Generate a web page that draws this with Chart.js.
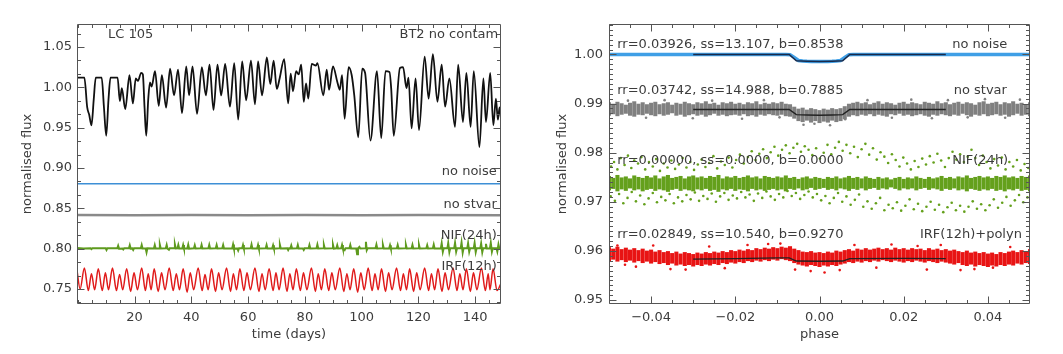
<!DOCTYPE html>
<html><head><meta charset="utf-8">
<script src="https://cdn.jsdelivr.net/npm/chart.js@4.4.0/dist/chart.umd.min.js"></script>
<style>
html,body{margin:0;padding:0;background:#fff;}
#wrap{position:relative;width:1063px;height:354px;overflow:hidden;background:#fff;}
#c1{position:absolute;left:0;top:0;}
#c2{position:absolute;left:531px;top:0;}
</style></head><body>
<div id="wrap"><canvas id="c1" width="531" height="354"></canvas><canvas id="c2" width="532" height="354"></canvas></div>
<script>
// ---------- tick labels ----------
const LEFT_X_TICKS = [20, 40, 60, 80, 100, 120, 140];
const LEFT_Y_TICKS = [0.75, 0.80, 0.85, 0.90, 0.95, 1.00, 1.05];
const RIGHT_X_TICKS = [-0.04, -0.02, 0, 0.02, 0.04];
const RIGHT_Y_TICKS = [0.95, 0.96, 0.97, 0.98, 0.99, 1.00];

// ---------- left panel: light curves (time [d], normalised flux) ----------
const LC_BT2 = [[0,1.012],[2.3,1.012],[3.3,0.975],[4.0,0.966],[4.8,0.953],[5.6,0.985],[6.3,1.012],[8.4,1.012],[9.2,0.975],[10.0,0.940],[10.8,0.985],[11.5,1.012],[14.0,1.012],[14.8,0.983],[15.5,0.999],[16.7,0.973],[18.2,1.015],[19.4,0.980],[20.4,1.011],[21.2,1.008],[22.3,1.018],[22.9,1.016],[23.5,0.975],[24.1,0.940],[24.8,0.985],[25.4,1.006],[26.0,1.001],[27.2,1.020],[28.5,0.977],[29.6,1.015],[31.1,0.975],[32.5,1.023],[33.9,0.990],[35.3,1.022],[36.7,0.968],[38.2,1.026],[39.2,0.990],[40.4,1.026],[42.0,0.967],[43.7,1.025],[45.1,0.990],[46.4,1.028],[47.8,0.972],[49.2,1.028],[50.5,0.990],[51.9,1.029],[53.6,0.976],[55.1,1.030],[56.5,0.960],[57.9,1.032],[59.3,0.984],[61.0,1.033],[62.4,0.979],[63.5,1.032],[64.9,0.990],[66.6,1.037],[67.8,1.004],[69.0,1.033],[70.1,0.998],[71.1,1.011],[72.7,1.035],[74.1,0.980],[75.0,1.017],[75.8,0.995],[76.9,1.020],[77.8,1.016],[78.7,1.028],[79.6,0.982],[80.4,1.005],[81.2,0.986],[82.4,1.029],[83.9,1.027],[84.4,1.030],[86.5,0.990],[87.7,1.022],[88.5,0.997],[89.9,1.026],[91.4,1.007],[92.3,0.997],[93.1,1.015],[94.0,0.961],[95.4,1.025],[96.5,1.015],[97.4,0.990],[98.8,0.938],[100.2,1.023],[101.2,1.018],[103.1,0.934],[105.4,1.020],[106.9,0.937],[108.4,1.020],[109.8,1.019],[110.4,0.999],[111.3,0.940],[113.5,1.024],[114.6,1.025],[115.8,0.999],[116.5,1.012],[117.6,0.949],[119.0,1.011],[120.2,0.947],[122.2,1.038],[123.6,0.986],[125.1,1.041],[126.7,0.982],[128.2,1.028],[129.4,0.976],[130.9,1.011],[132.9,0.951],[134.0,1.028],[135.7,0.957],[136.9,1.018],[138.4,0.951],[139.5,1.020],[141.5,0.926],[142.9,1.011],[143.8,0.957],[145.3,1.018],[146.4,0.953],[147.3,0.986],[148.0,0.960],[148.6,0.975],[149.1,0.962]];
const LC_NONOISE = [[-0.3,0.8805],[149.1,0.8805]];
const LC_NOSTVAR = [[-0.3,0.8416],[20,0.8414],[40,0.8417],[60,0.8414],[80,0.8416],[100,0.8413],[120,0.8416],[149.1,0.8414]];
const LC_NIF = [[-0.3,0.8008],[2.0,0.8003],[4.5,0.8005],[4.8,0.7994],[5.1,0.8004],[9.8,0.8004],[10.1,0.7984],[10.4,0.8006],[13.9,0.8004],[14.2,0.8035],[14.5,0.8000],[15.7,0.8002],[16.0,0.7991],[16.3,0.8004],[18.0,0.8004],[18.3,0.8042],[18.6,0.8001],[19.2,0.8003],[19.5,0.7984],[19.8,0.8004],[22.2,0.8004],[22.5,0.8045],[22.8,0.8002],[23.9,0.8002],[24.2,0.7955],[24.5,0.8006],[26.8,0.8003],[27.1,0.8044],[27.4,0.8002],[28.6,0.8003],[28.9,0.8046],[29.2,0.8001],[31.0,0.8004],[31.3,0.8046],[31.6,0.8000],[32.1,0.7986],[32.4,0.8004],[33.9,0.8004],[34.2,0.8050],[34.5,0.8002],[35.1,0.8004],[35.4,0.8046],[35.7,0.8001],[36.8,0.8003],[37.1,0.8045],[37.4,0.8001],[38.6,0.8004],[38.9,0.8048],[39.2,0.8000],[40.9,0.8004],[41.2,0.8042],[41.5,0.8002],[43.3,0.8004],[43.6,0.8046],[43.9,0.8002],[46.0,0.8004],[46.3,0.8046],[46.6,0.8001],[48.6,0.8004],[48.9,0.8044],[49.2,0.8001],[50.9,0.8004],[51.2,0.8045],[51.5,0.8002],[54.4,0.8004],[54.7,0.8051],[55.0,0.8001],[56.2,0.8003],[56.5,0.7977],[56.8,0.8005],[57.9,0.8004],[58.2,0.8044],[58.5,0.8001],[60.9,0.8004],[61.2,0.8051],[61.5,0.8002],[63.2,0.8004],[63.5,0.8046],[63.8,0.8001],[66.2,0.8004],[66.5,0.8044],[66.8,0.8002],[68.5,0.8004],[68.8,0.8042],[69.1,0.8001],[70.9,0.8004],[71.2,0.8046],[71.5,0.8002],[73.8,0.8004],[74.1,0.7984],[74.4,0.8005],[74.9,0.8004],[75.2,0.8039],[75.5,0.8002],[77.2,0.8004],[77.5,0.8045],[77.8,0.8001],[79.3,0.8003],[79.6,0.7984],[79.9,0.8005],[81.3,0.8004],[81.6,0.8045],[81.9,0.8002],[84.1,0.8004],[84.4,0.8048],[84.7,0.8001],[86.4,0.8004],[86.7,0.8044],[87.0,0.8002],[89.6,0.8004],[89.9,0.8045],[90.2,0.8001],[91.1,0.8004],[91.4,0.8042],[91.7,0.8002],[92.8,0.8004],[93.1,0.8045],[93.4,0.8000],[94.0,0.7982],[94.3,0.8005],[95.7,0.8004],[96.0,0.8045],[96.3,0.8002],[98.1,0.8003],[98.4,0.7930],[98.7,0.8004],[99.2,0.8022],[99.5,0.8003],[101.2,0.8004],[101.5,0.8085],[101.8,0.7982],[102.1,0.8004],[104.9,0.8004],[105.2,0.8048],[105.5,0.8001],[107.2,0.8004],[107.5,0.8045],[107.8,0.8002],[109.7,0.8004],[110.0,0.8042],[110.3,0.8001],[112.4,0.8004],[112.7,0.8045],[113.0,0.8002],[115.3,0.8004],[115.6,0.8044],[115.9,0.8001],[117.6,0.8004],[117.9,0.8046],[118.2,0.8002],[119.9,0.8004],[120.2,0.8045],[120.5,0.8001],[122.8,0.8004],[123.1,0.8042],[123.4,0.8002],[125.1,0.8004],[125.4,0.8048],[125.7,0.8001],[127.9,0.8004],[128.2,0.8065],[128.6,0.7960],[128.9,0.8004],[130.2,0.8004],[130.5,0.8068],[130.9,0.7958],[131.2,0.8004],[132.6,0.8004],[132.9,0.8070],[133.3,0.7962],[133.6,0.8004],[134.9,0.8004],[135.2,0.8074],[135.6,0.7952],[135.9,0.8004],[137.2,0.8004],[137.5,0.8066],[137.9,0.7962],[138.2,0.8004],[139.5,0.8004],[139.8,0.8070],[140.2,0.7958],[140.5,0.8004],[141.8,0.8004],[142.1,0.8064],[142.5,0.7956],[142.8,0.8004],[143.5,0.8004],[143.8,0.8060],[144.1,0.8002],[145.2,0.8004],[145.5,0.8070],[145.9,0.7962],[146.2,0.8004],[147.5,0.8004],[147.8,0.7965],[148.2,0.8050],[148.5,0.8002],[149.1,0.8005]];
const LC_IRF = [[-0.3,0.773],[0.8,0.750],[2.3,0.776],[3.7,0.748],[4.8,0.769],[5.9,0.749],[7.2,0.775],[8.6,0.748],[9.7,0.770],[10.8,0.749],[12.2,0.776],[13.6,0.748],[14.7,0.768],[15.8,0.749],[17.2,0.775],[18.6,0.747],[19.8,0.770],[21.0,0.749],[22.5,0.776],[23.8,0.748],[24.8,0.769],[25.8,0.749],[26.9,0.775],[28.3,0.747],[29.5,0.770],[30.7,0.749],[32.2,0.776],[33.6,0.748],[34.7,0.769],[35.8,0.749],[37.1,0.775],[38.5,0.746],[39.6,0.770],[40.8,0.749],[42.4,0.776],[43.8,0.748],[44.8,0.768],[45.9,0.749],[47.1,0.775],[48.5,0.747],[49.6,0.770],[50.8,0.749],[52.4,0.776],[53.8,0.747],[54.8,0.769],[55.9,0.749],[57.1,0.775],[58.5,0.748],[59.6,0.770],[60.8,0.749],[62.4,0.776],[63.8,0.747],[64.9,0.769],[66.0,0.749],[67.4,0.775],[68.8,0.748],[69.8,0.770],[70.9,0.749],[72.3,0.776],[73.7,0.747],[74.7,0.769],[75.8,0.749],[77.0,0.775],[78.4,0.748],[79.5,0.770],[80.7,0.749],[82.3,0.776],[83.7,0.747],[84.7,0.769],[85.8,0.749],[87.0,0.775],[88.4,0.748],[89.5,0.770],[90.7,0.749],[92.3,0.776],[93.7,0.747],[94.8,0.769],[95.9,0.749],[97.2,0.775],[98.6,0.746],[99.7,0.770],[100.9,0.749],[102.3,0.776],[103.7,0.748],[104.7,0.769],[105.8,0.749],[107.0,0.775],[108.4,0.747],[109.5,0.770],[110.7,0.749],[112.3,0.776],[113.7,0.748],[114.7,0.769],[115.8,0.749],[116.9,0.775],[118.3,0.747],[119.4,0.770],[120.6,0.749],[122.2,0.776],[123.6,0.748],[124.6,0.769],[125.7,0.749],[126.9,0.775],[128.3,0.747],[129.4,0.770],[130.6,0.749],[132.2,0.776],[133.6,0.748],[134.6,0.769],[135.7,0.749],[136.9,0.775],[138.3,0.747],[139.4,0.770],[140.6,0.749],[142.2,0.776],[143.6,0.748],[144.6,0.769],[145.2,0.749],[146.3,0.775],[147.7,0.748],[149.1,0.757]];

// ---------- right panel: phase-folded data ----------
const PHASE = [-0.05,-0.049,-0.048,-0.047,-0.046,-0.045,-0.044,-0.043,-0.042,-0.041,-0.04,-0.039,-0.038,-0.037,-0.036,-0.035,-0.034,-0.033,-0.032,-0.031,-0.03,-0.029,-0.028,-0.027,-0.026,-0.025,-0.024,-0.023,-0.022,-0.021,-0.02,-0.019,-0.018,-0.017,-0.016,-0.015,-0.014,-0.013,-0.012,-0.011,-0.01,-0.009,-0.008,-0.007,-0.006,-0.005,-0.004,-0.003,-0.002,-0.001,0,0.001,0.002,0.003,0.004,0.005,0.006,0.007,0.008,0.009,0.01,0.011,0.012,0.013,0.014,0.015,0.016,0.017,0.018,0.019,0.02,0.021,0.022,0.023,0.024,0.025,0.026,0.027,0.028,0.029,0.03,0.031,0.032,0.033,0.034,0.035,0.036,0.037,0.038,0.039,0.04,0.041,0.042,0.043,0.044,0.045,0.046,0.047,0.048,0.049,0.05];
const NONOISE_FLUX = [1,1,1,1,1,1,1,1,1,1,1,1,1,1,1,1,1,1,1,1,1,1,1,1,1,1,1,1,1,1,1,1,1,1,1,1,1,1,1,1,1,1,1,0.99996,0.9994,0.99878,0.99868,0.99862,0.99858,0.99856,0.99855,0.99856,0.99858,0.99862,0.99868,0.99878,0.9994,0.99996,1,1,1,1,1,1,1,1,1,1,1,1,1,1,1,1,1,1,1,1,1,1,1,1,1,1,1,1,1,1,1,1,1,1,1,1,1,1,1,1,1,1,1];
const NOSTVAR_HI = [.9902,.9899,.9903,.9900,.9897,.9901,.9904,.9899,.9902,.9898,.9901,.9903,.9898,.9900,.9902,.9897,.9901,.9899,.9903,.9900,.9898,.9902,.9900,.9904,.9899,.9901,.9897,.9902,.9900,.9903,.9899,.9901,.9898,.9902,.9900,.9904,.9898,.9901,.9899,.9902,.9900,.9903,.9899,.9898,.9893,.9889,.9891,.9887,.9890,.9888,.9886,.9889,.9887,.9890,.9888,.9890,.9894,.9899,.9901,.9903,.9900,.9902,.9898,.9901,.9904,.9899,.9902,.9900,.9897,.9901,.9903,.9899,.9902,.9900,.9898,.9903,.9901,.9899,.9904,.9900,.9902,.9898,.9901,.9903,.9899,.9902,.9900,.9897,.9902,.9904,.9899,.9901,.9903,.9898,.9902,.9900,.9904,.9899,.9901,.9898,.9902];
const NOSTVAR_LO = [.9876,.9879,.9875,.9878,.9880,.9876,.9874,.9878,.9877,.9880,.9877,.9875,.9879,.9876,.9878,.9881,.9876,.9878,.9874,.9877,.9879,.9876,.9878,.9874,.9877,.9880,.9876,.9878,.9875,.9877,.9878,.9876,.9879,.9875,.9877,.9874,.9878,.9876,.9879,.9877,.9876,.9878,.9875,.9874,.9870,.9865,.9863,.9866,.9862,.9865,.9861,.9864,.9862,.9866,.9863,.9865,.9869,.9874,.9877,.9875,.9878,.9876,.9879,.9875,.9878,.9876,.9874,.9879,.9877,.9880,.9876,.9878,.9875,.9877,.9879,.9876,.9874,.9878,.9876,.9879,.9877,.9875,.9878,.9876,.9880,.9877,.9874,.9878,.9876,.9879,.9875,.9877,.9879,.9876,.9878,.9874,.9877,.9880,.9876,.9878,.9875];
const NOSTVAR_OUT = [[-0.0455,0.9906],[-0.0412,0.9871],[-0.0368,0.9907],[-0.0301,0.9870],[-0.0255,0.9906],[-0.0184,0.9869],[-0.0132,0.9907],[-0.0095,0.9872],[-0.0038,0.9857],[-0.0012,0.9859],[0.0025,0.9856],[0.0061,0.9868],[0.0114,0.9907],[0.0172,0.9871],[0.0218,0.9908],[0.0267,0.9870],[0.0305,0.9907],[0.0352,0.9872],[0.0393,0.9909],[0.0441,0.9871],[0.0476,0.9908]];
const NIF_HI = [.9752,.9748,.9754,.9749,.9751,.9747,.9753,.9750,.9748,.9752,.9749,.9753,.9747,.9751,.9754,.9748,.9750,.9752,.9747,.9751,.9753,.9749,.9751,.9748,.9752,.9750,.9754,.9747,.9751,.9749,.9752,.9748,.9750,.9753,.9749,.9751,.9747,.9752,.9750,.9748,.9751,.9749,.9753,.9748,.9750,.9746,.9749,.9751,.9747,.9750,.9748,.9746,.9750,.9748,.9751,.9747,.9749,.9752,.9748,.9750,.9747,.9751,.9748,.9746,.9750,.9747,.9749,.9745,.9748,.9750,.9746,.9749,.9747,.9751,.9748,.9746,.9750,.9747,.9749,.9752,.9748,.9750,.9747,.9751,.9749,.9753,.9748,.9750,.9752,.9749,.9751,.9748,.9752,.9750,.9753,.9749,.9751,.9748,.9752,.9750,.9753];
const NIF_LO = [.9724,.9727,.9722,.9726,.9723,.9728,.9724,.9726,.9722,.9725,.9727,.9723,.9726,.9724,.9721,.9725,.9727,.9723,.9726,.9724,.9722,.9726,.9724,.9727,.9723,.9725,.9721,.9726,.9724,.9727,.9723,.9726,.9725,.9722,.9727,.9724,.9726,.9723,.9725,.9727,.9724,.9726,.9722,.9727,.9725,.9728,.9724,.9726,.9729,.9725,.9727,.9729,.9725,.9727,.9724,.9728,.9726,.9723,.9727,.9725,.9728,.9724,.9727,.9729,.9725,.9728,.9726,.9730,.9727,.9724,.9728,.9726,.9728,.9724,.9727,.9729,.9725,.9728,.9726,.9723,.9727,.9725,.9728,.9724,.9726,.9722,.9727,.9725,.9723,.9726,.9724,.9727,.9723,.9725,.9722,.9726,.9724,.9727,.9723,.9725,.9722];
const NIF_SCATTER = [[-0.0495,0.9772],[-0.0488,0.9781],[-0.048,0.9766],[-0.0472,0.9789],[-0.0463,0.9775],[-0.0455,0.9794],[-0.0447,0.9769],[-0.044,0.9784],[-0.0431,0.9778],[-0.0423,0.9791],[-0.0414,0.9766],[-0.0405,0.9781],[-0.0396,0.9772],[-0.0388,0.9787],[-0.0379,0.9763],[-0.037,0.9778],[-0.0361,0.977],[-0.0352,0.9784],[-0.0343,0.9767],[-0.0334,0.9776],[-0.0325,0.9789],[-0.0316,0.977],[-0.0307,0.9781],[-0.0298,0.9765],[-0.0289,0.9776],[-0.028,0.9786],[-0.0271,0.9771],[-0.0262,0.9779],[-0.0252,0.9793],[-0.0243,0.9768],[-0.0234,0.9782],[-0.0225,0.9775],[-0.0216,0.979],[-0.0207,0.977],[-0.0198,0.9785],[-0.0189,0.9796],[-0.018,0.9778],[-0.017,0.9791],[-0.0161,0.9803],[-0.0152,0.9785],[-0.0143,0.9798],[-0.0134,0.9807],[-0.0125,0.9789],[-0.0116,0.9801],[-0.0107,0.9812],[-0.0098,0.9794],[-0.0089,0.9806],[-0.008,0.9815],[-0.0071,0.9799],[-0.0062,0.981],[-0.0053,0.9818],[-0.0044,0.9802],[-0.0035,0.9813],[-0.0026,0.9806],[-0.0017,0.9795],[-0.0008,0.9809],[0.0001,0.9788],[0.001,0.98],[0.0019,0.9816],[0.0028,0.9797],[0.0037,0.981],[0.0046,0.9822],[0.0055,0.9804],[0.0064,0.9816],[0.0073,0.9799],[0.0082,0.9812],[0.0091,0.9791],[0.01,0.9807],[0.0109,0.9818],[0.0118,0.9796],[0.0127,0.9809],[0.0136,0.9786],[0.0145,0.9801],[0.0154,0.9792],[0.0163,0.9779],[0.0172,0.9797],[0.0181,0.9785],[0.019,0.9772],[0.0199,0.979],[0.0208,0.9778],[0.0217,0.9766],[0.0226,0.9783],[0.0235,0.9771],[0.0244,0.9788],[0.0253,0.9776],[0.0262,0.9793],[0.0271,0.978],[0.028,0.9798],[0.0289,0.9784],[0.0298,0.9771],[0.0307,0.9789],[0.0316,0.9802],[0.0325,0.9786],[0.0334,0.9797],[0.0343,0.9781],[0.0352,0.9792],[0.0361,0.9806],[0.037,0.9789],[0.0379,0.9775],[0.0388,0.9794],[0.0397,0.9781],[0.0406,0.9768],[0.0415,0.9787],[0.0424,0.9774],[0.0433,0.979],[0.0442,0.9766],[0.0451,0.9781],[0.046,0.9772],[0.0469,0.9785],[0.0478,0.9764],[0.0487,0.9777],[0.0496,0.9769],
[-0.0496,0.9711],[-0.0486,0.9702],[-0.0476,0.9716],[-0.0466,0.9697],[-0.0456,0.9708],[-0.0446,0.972],[-0.0436,0.9701],[-0.0426,0.9713],[-0.0416,0.9695],[-0.0406,0.9707],[-0.0396,0.9718],[-0.0386,0.9699],[-0.0376,0.971],[-0.0366,0.9703],[-0.0356,0.9716],[-0.0346,0.9697],[-0.0336,0.9709],[-0.0326,0.9701],[-0.0316,0.9714],[-0.0306,0.9705],[-0.0296,0.9719],[-0.0286,0.9702],[-0.0276,0.9712],[-0.0266,0.9706],[-0.0256,0.9717],[-0.0246,0.97],[-0.0236,0.9711],[-0.0226,0.9718],[-0.0216,0.9704],[-0.0206,0.9713],[-0.0196,0.9707],[-0.0186,0.972],[-0.0176,0.9709],[-0.0166,0.9715],[-0.0156,0.9702],[-0.0146,0.9717],[-0.0136,0.9708],[-0.0126,0.9721],[-0.0116,0.9711],[-0.0106,0.9704],[-0.0096,0.9716],[-0.0086,0.9709],[-0.0076,0.9722],[-0.0066,0.9712],[-0.0056,0.9718],[-0.0046,0.9706],[-0.0036,0.9714],[-0.0026,0.9721],[-0.0016,0.9709],[-0.0006,0.9716],[0.0004,0.9703],[0.0014,0.9712],[0.0024,0.9697],[0.0034,0.9708],[0.0044,0.9718],[0.0054,0.97],[0.0064,0.9711],[0.0074,0.9694],[0.0084,0.9704],[0.0094,0.9715],[0.0104,0.969],[0.0114,0.9701],[0.0124,0.9686],[0.0134,0.9697],[0.0144,0.9708],[0.0154,0.9683],[0.0164,0.9694],[0.0174,0.9687],[0.0184,0.9699],[0.0194,0.9682],[0.0204,0.9692],[0.0214,0.9705],[0.0224,0.9685],[0.0234,0.9696],[0.0244,0.9681],[0.0254,0.969],[0.0264,0.97],[0.0274,0.9684],[0.0284,0.9694],[0.0294,0.9679],[0.0304,0.9689],[0.0314,0.9698],[0.0324,0.9683],[0.0334,0.9692],[0.0344,0.968],[0.0354,0.969],[0.0364,0.9701],[0.0374,0.9686],[0.0384,0.9695],[0.0394,0.9683],[0.0404,0.9693],[0.0414,0.9705],[0.0424,0.9688],[0.0434,0.9698],[0.0444,0.971],[0.0454,0.9692],[0.0464,0.9703],[0.0474,0.9714],[0.0484,0.9699],[0.0494,0.9709]];
const IRF_HI = [.9607,.9604,.9608,.9603,.9606,.9602,.9605,.9601,.9604,.9600,.9602,.9598,.9601,.9597,.9599,.9595,.9598,.9594,.9597,.9595,.9593,.9596,.9594,.9597,.9595,.9598,.9596,.9599,.9597,.9601,.9599,.9602,.9600,.9603,.9601,.9605,.9603,.9606,.9604,.9607,.9605,.9608,.9606,.9609,.9604,.9601,.9598,.9597,.9599,.9596,.9597,.9595,.9598,.9596,.9600,.9598,.9601,.9603,.9600,.9604,.9602,.9605,.9602,.9604,.9606,.9603,.9605,.9602,.9606,.9603,.9605,.9602,.9605,.9603,.9604,.9601,.9605,.9602,.9604,.9601,.9603,.9600,.9602,.9599,.9597,.9600,.9596,.9598,.9595,.9597,.9594,.9596,.9593,.9597,.9595,.9598,.9600,.9597,.9601,.9599,.9603];
const IRF_LO = [.9580,.9583,.9579,.9582,.9578,.9581,.9577,.9580,.9576,.9579,.9575,.9578,.9574,.9576,.9572,.9575,.9571,.9573,.9570,.9572,.9569,.9572,.9570,.9573,.9571,.9574,.9572,.9576,.9574,.9577,.9575,.9578,.9576,.9580,.9578,.9581,.9579,.9582,.9580,.9583,.9581,.9584,.9582,.9580,.9576,.9573,.9571,.9569,.9572,.9570,.9568,.9571,.9569,.9572,.9570,.9573,.9575,.9578,.9576,.9579,.9577,.9580,.9578,.9581,.9579,.9582,.9580,.9578,.9581,.9579,.9577,.9580,.9578,.9581,.9579,.9577,.9580,.9578,.9576,.9579,.9577,.9575,.9573,.9576,.9572,.9570,.9573,.9569,.9572,.9570,.9568,.9571,.9569,.9572,.9570,.9573,.9571,.9575,.9573,.9576,.9574];
const IRF_OUT = [[-0.048,0.9611],[-0.0462,0.9572],[-0.0436,0.9568],[-0.0395,0.9611],[-0.0354,0.9563],[-0.0318,0.9562],[-0.0262,0.9609],[-0.0225,0.9565],[-0.0171,0.9612],[-0.0122,0.9614],[-0.0093,0.9615],[-0.0058,0.9562],[-0.0021,0.9559],[0.0012,0.9556],[0.0048,0.9561],[0.0083,0.9612],[0.0135,0.9566],[0.0171,0.9613],[0.0233,0.961],[0.0255,0.9562],[0.0288,0.9612],[0.0335,0.9561],[0.0368,0.9563],[0.0412,0.9566],[0.0453,0.9608],[0.0495,0.9597]];
// transit model fits
const FIT_NONOISE = [[-0.03,1.0],[-0.0072,1.0],[-0.0055,0.99872],[-0.003,0.99862],[0,0.99855],[0.003,0.99862],[0.0055,0.99872],[0.0072,1.0],[0.03,1.0]];
const FIT_NOSTVAR = [[-0.03,0.98882],[-0.0072,0.98882],[-0.0055,0.98775],[-0.003,0.98768],[0,0.98764],[0.003,0.98768],[0.0055,0.98775],[0.0072,0.98882],[0.03,0.98882]];
const FIT_IRF = [[-0.03,0.95835],[-0.02,0.95845],[-0.01,0.95858],[-0.0072,0.95858],[-0.0055,0.95795],[0,0.9579],[0.0055,0.95795],[0.0072,0.95845],[0.02,0.95848],[0.03,0.95845]];

// ---------- helpers ----------
const FONT = {family: '"DejaVu Sans", sans-serif', size: 13};
const TXT = '#3c3c3c';
const pts = a => a.map(p => ({x: p[0], y: p[1]}));
const band = (lo, hi) => PHASE.map((p, i) => ({x: p, y: [lo[i], hi[i]]}));
const series = v => PHASE.map((p, i) => ({x: p, y: v[i]}));
function minorList(lo, hi, step){const r=[];const n0=Math.ceil(lo/step-1e-6), n1=Math.floor(hi/step+1e-6);for(let n=n0;n<=n1;n++)r.push(n*step);return r;}

const framePlugin = {
  id: 'framePlugin',
  afterDatasetsDraw(chart, args, o) {
    const {ctx, chartArea: ca, scales: {x, y}} = chart;
    const L = Math.round(ca.left) + 0.5, R = Math.round(ca.right) - 0.5, T = Math.round(ca.top) + 0.5, B = Math.round(ca.bottom) - 0.5;
    ctx.save();
    ctx.strokeStyle = '#555'; ctx.lineWidth = 1;
    ctx.beginPath();
    ctx.rect(L, T, R - L, B - T);
    const xt = (vals, len) => vals.forEach(v => { const px = Math.round(x.getPixelForValue(v)) + 0.5; if (px < L || px > R) return; ctx.moveTo(px, B); ctx.lineTo(px, B - len); ctx.moveTo(px, T); ctx.lineTo(px, T + len); });
    const yt = (vals, len) => vals.forEach(v => { const py = Math.round(y.getPixelForValue(v)) + 0.5; if (py < T || py > B) return; ctx.moveTo(L, py); ctx.lineTo(L + len, py); ctx.moveTo(R, py); ctx.lineTo(R - len, py); });
    xt(minorList(x.min, x.max, o.xMinor), 3.5);
    xt(o.xMajor, 7);
    yt(minorList(y.min, y.max, o.yMinor), 3.5);
    yt(o.yMajor, 7);
    ctx.stroke();
    ctx.restore();
  },
  afterDraw(chart, args, o) {
    const {ctx, scales: {x, y}} = chart;
    ctx.save();
    ctx.font = '13px "DejaVu Sans", sans-serif';
    ctx.fillStyle = TXT; ctx.textBaseline = 'middle';
    (o.labels || []).forEach(l => { ctx.textAlign = l.align; ctx.fillText(l.text, x.getPixelForValue(l.x), y.getPixelForValue(l.y)); });
    ctx.restore();
  }
};

function axisX(min, max, ticks, fmt, title) {
  return {type: 'linear', position: 'bottom', min, max, offset: false,
    grid: {display: false, drawTicks: false}, border: {display: false},
    afterBuildTicks: s => { s.ticks = ticks.map(v => ({value: v})); },
    afterFit: s => { s.height = 50; },
    ticks: {font: FONT, color: TXT, padding: 6, maxRotation: 0, autoSkip: false, callback: fmt},
    title: {display: true, text: title, font: FONT, color: TXT, padding: {top: 0, bottom: 12}}};
}
function axisY(min, max, ticks, fmt, width, tpad, lpad) {
  return {type: 'linear', position: 'left', min, max,
    grid: {display: false, drawTicks: false}, border: {display: false},
    afterBuildTicks: s => { s.ticks = ticks.map(v => ({value: v})); },
    afterFit: s => { s.width = width; },
    ticks: {font: FONT, color: TXT, padding: lpad, autoSkip: false, callback: fmt},
    title: {display: true, text: 'normalised flux', font: FONT, color: TXT, padding: {top: tpad, bottom: 0}}};
}
const common = {responsive: false, animation: false, events: [], devicePixelRatio: 1};

// ---------- left chart ----------
new Chart(document.getElementById('c1'), {
  type: 'scatter',
  data: {datasets: [
    {type: 'line', data: pts(LC_BT2), borderColor: '#111', borderWidth: 1.8, pointRadius: 0, cubicInterpolationMode: 'monotone'},
    {type: 'line', data: pts(LC_NONOISE), borderColor: '#3d8fd6', borderWidth: 1.5, pointRadius: 0},
    {type: 'line', data: pts(LC_NOSTVAR), borderColor: '#8a8a8a', borderWidth: 2.5, pointRadius: 0},
    {type: 'line', data: pts(LC_NIF), borderColor: '#5e9a1e', borderWidth: 2, pointRadius: 0},
    {type: 'line', data: pts(LC_IRF), borderColor: '#e01b1b', borderWidth: 1.5, pointRadius: 0, cubicInterpolationMode: 'monotone'}
  ]},
  options: Object.assign({}, common, {
    layout: {padding: {left: 0, right: 30, top: 24, bottom: 0}},
    plugins: {legend: {display: false}, tooltip: {enabled: false},
      framePlugin: {xMajor: LEFT_X_TICKS, yMajor: LEFT_Y_TICKS, xMinor: 5, yMinor: 0.05 / 3,
        labels: [
          {text: 'LC 105', x: 10.6, y: 1.0654, align: 'left'},
          {text: 'BT2 no contam', x: 148.1, y: 1.0654, align: 'right'},
          {text: 'no noise', x: 147.6, y: 0.895, align: 'right'},
          {text: 'no stvar', x: 147.6, y: 0.855, align: 'right'},
          {text: 'NIF(24h)', x: 147.6, y: 0.8166, align: 'right'},
          {text: 'IRF(12h)', x: 147.6, y: 0.7779, align: 'right'}
        ]}},
    scales: {
      x: axisX(-0.3, 149.1, LEFT_X_TICKS, v => String(v), 'time (days)'),
      y: axisY(0.7314, 1.0785, LEFT_Y_TICKS, v => v.toFixed(2), 77, 20, 5)
    }
  }),
  plugins: [framePlugin]
});

// ---------- right chart ----------
const phaseFmt = v => (v < 0 ? '\u2212' + Math.abs(v).toFixed(2) : v.toFixed(2));
new Chart(document.getElementById('c2'), {
  type: 'scatter',
  data: {datasets: [
    {type: 'line', data: series(NONOISE_FLUX), borderColor: '#3f9fe6', borderWidth: 3.5, pointRadius: 0, order: 3},
    {type: 'bar', data: band(NOSTVAR_LO, NOSTVAR_HI), backgroundColor: '#808080', barThickness: 3.4, grouped: false, order: 3},
    {type: 'scatter', data: pts(NOSTVAR_OUT), backgroundColor: '#808080', borderWidth: 0, pointRadius: 1.3, order: 2},
    {type: 'bar', data: band(NIF_LO, NIF_HI), backgroundColor: '#64a01c', barThickness: 3.4, grouped: false, order: 3},
    {type: 'scatter', data: pts(NIF_SCATTER), backgroundColor: '#64a01c', borderWidth: 0, pointRadius: 1.3, order: 2},
    {type: 'bar', data: band(IRF_LO, IRF_HI), backgroundColor: '#e81414', barThickness: 3.4, grouped: false, order: 3},
    {type: 'scatter', data: pts(IRF_OUT), backgroundColor: '#e81414', borderWidth: 0, pointRadius: 1.3, order: 2},
    {type: 'line', data: pts(FIT_NONOISE), borderColor: '#1a2a4a', borderWidth: 1.5, pointRadius: 0, order: 0},
    {type: 'line', data: pts(FIT_NOSTVAR), borderColor: '#222', borderWidth: 1.5, pointRadius: 0, order: 0},
    {type: 'line', data: pts(FIT_IRF), borderColor: '#222', borderWidth: 1.3, pointRadius: 0, order: 0}
  ]},
  options: Object.assign({}, common, {
    layout: {padding: {left: 0, right: 33, top: 24, bottom: 0}},
    plugins: {legend: {display: false}, tooltip: {enabled: false},
      framePlugin: {xMajor: RIGHT_X_TICKS, yMajor: RIGHT_Y_TICKS, xMinor: 0.005, yMinor: 0.001,
        labels: [
          {text: 'rr=0.03926, ss=13.107, b=0.8538', x: -0.04805, y: 1.0019, align: 'left'},
          {text: 'no noise', x: 0.04458, y: 1.0019, align: 'right'},
          {text: 'rr=0.03742, ss=14.988, b=0.7885', x: -0.04805, y: 0.99273, align: 'left'},
          {text: 'no stvar', x: 0.04451, y: 0.99273, align: 'right'},
          {text: 'rr=0.00000, ss=0.0000, b=0.0000', x: -0.04805, y: 0.97829, align: 'left'},
          {text: 'NIF(24h)', x: 0.04482, y: 0.97829, align: 'right'},
          {text: 'rr=0.02849, ss=10.540, b=0.9270', x: -0.04805, y: 0.96323, align: 'left'},
          {text: 'IRF(12h)+polyn', x: 0.04808, y: 0.96323, align: 'right'}
        ]}},
    scales: {
      x: axisX(-0.05, 0.05, RIGHT_X_TICKS, phaseFmt, 'phase'),
      y: axisY(0.9492, 1.0062, RIGHT_Y_TICKS, v => v.toFixed(2), 78, 24, 6)
    }
  }),
  plugins: [framePlugin]
});
</script></body></html>
